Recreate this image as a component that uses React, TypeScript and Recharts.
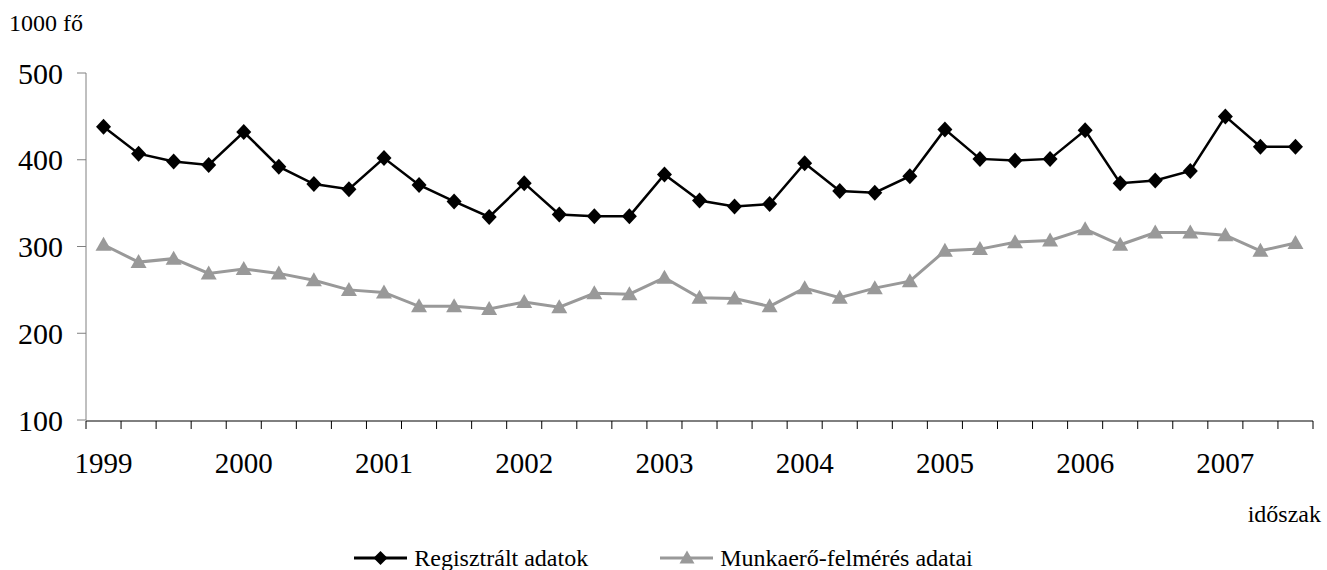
import React from 'react';
import { LineChart, Line, XAxis, YAxis, Legend } from 'recharts';

const quarters = [
  '1999 I', '1999 II', '1999 III', '1999 IV',
  '2000 I', '2000 II', '2000 III', '2000 IV',
  '2001 I', '2001 II', '2001 III', '2001 IV',
  '2002 I', '2002 II', '2002 III', '2002 IV',
  '2003 I', '2003 II', '2003 III', '2003 IV',
  '2004 I', '2004 II', '2004 III', '2004 IV',
  '2005 I', '2005 II', '2005 III', '2005 IV',
  '2006 I', '2006 II', '2006 III', '2006 IV',
  '2007 I', '2007 II', '2007 III',
];

const yearLabels = ['1999', '2000', '2001', '2002', '2003', '2004', '2005', '2006', '2007'];

const registered = [
  438, 407, 398, 394, 432, 392, 372, 366, 402, 371, 352, 334,
  373, 337, 335, 335, 383, 353, 346, 349, 396, 364, 362, 381,
  435, 401, 399, 401, 434, 373, 376, 387, 450, 415, 415,
];

const survey = [
  302, 282, 286, 269, 274, 269, 261, 250, 247, 231, 231, 228,
  236, 230, 246, 245, 264, 241, 240, 231, 252, 241, 252, 260,
  295, 297, 305, 307, 320, 302, 316, 316, 313, 295, 304,
];

const yTicks = [100, 200, 300, 400, 500];

const seriesOrder = ['registered', 'survey'];
const seriesNames: Record<string, string> = {
  registered: 'Regisztrált adatok',
  survey: 'Munkaerő-felmérés adatai',
};

const data = quarters.map((q, i) => ({
  idx: i,
  q,
  registered: registered[i],
  survey: survey[i],
}));

const boundaryTicks = [...quarters.map((_, i) => i - 0.5), quarters.length - 0.5];
const yearTicks = yearLabels.map((_, k) => k * 4);

const FONT = 'Liberation Serif, DejaVu Serif, Times New Roman, serif';
const GRAY = '#999999';

const DiamondDot = (props: any) => {
  const { cx, cy, index } = props;
  if (cx == null || cy == null) return <g key={`d-${index}`} />;
  return (
    <path
      key={`d-${index}`}
      d={`M${cx},${cy - 8}L${cx + 7.5},${cy}L${cx},${cy + 8}L${cx - 7.5},${cy}Z`}
      fill="#000"
    />
  );
};

const TriangleDot = (props: any) => {
  const { cx, cy, index } = props;
  if (cx == null || cy == null) return <g key={`t-${index}`} />;
  return (
    <path
      key={`t-${index}`}
      d={`M${cx},${cy - 8}L${cx + 8},${cy + 6}L${cx - 8},${cy + 6}Z`}
      fill={GRAY}
    />
  );
};

const LegendIcon = ({ kind, color }: { kind: string; color: string }) => (
  <svg width={53} height={20} style={{ marginRight: 7, display: 'block' }}>
    <line x1={0} y1={10} x2={53} y2={10} stroke={color} strokeWidth={3} />
    {kind === 'registered' ? (
      <path d="M26.5,3L33.5,10L26.5,17L19.5,10Z" fill={color} />
    ) : (
      <path d="M27,2.5L34.5,15.5L19.5,15.5Z" fill={color} />
    )}
  </svg>
);

const renderLegend = (props: any) => {
  const payload = [...(props.payload || [])].sort(
    (a: any, b: any) => seriesOrder.indexOf(a.dataKey) - seriesOrder.indexOf(b.dataKey)
  );
  return (
    <div
      style={{
        display: 'flex',
        justifyContent: 'center',
        alignItems: 'center',
        gap: 72,
        fontFamily: FONT,
        fontSize: 24,
        lineHeight: '28px',
        color: '#000',
      }}
    >
      {payload.map((entry: any) => (
        <div key={entry.dataKey} style={{ display: 'flex', alignItems: 'center' }}>
          <LegendIcon kind={entry.dataKey} color={entry.color} />
          <span>{entry.value}</span>
        </div>
      ))}
    </div>
  );
};

export default function App() {
  return (
    <div
      style={{
        position: 'absolute',
        left: 0,
        top: 0,
        width: 1327,
        height: 570,
        background: '#fff',
        fontFamily: FONT,
      }}
    >
      <div style={{ position: 'absolute', left: 9, top: 9, fontSize: 24, lineHeight: '28px', color: '#000' }}>
        1000 fő
      </div>
      <div
        style={{
          position: 'absolute',
          right: 6,
          top: 500,
          fontSize: 24,
          lineHeight: '28px',
          color: '#000',
        }}
      >
        időszak
      </div>
      <LineChart
        width={1327}
        height={570}
        data={data}
        margin={{ top: 73, right: 14, left: 10, bottom: 148 }}
      >
        <XAxis
          xAxisId="marks"
          dataKey="idx"
          type="number"
          domain={[-0.5, quarters.length - 0.5]}
          ticks={boundaryTicks}
          interval={0}
          tickFormatter={() => ''}
          height={1}
          tickSize={8}
          stroke="#000"
          strokeWidth={1}
        />
        <XAxis
          xAxisId="labels"
          dataKey="idx"
          type="number"
          domain={[-0.5, quarters.length - 0.5]}
          ticks={yearTicks}
          interval={0}
          tickFormatter={(v: number) => yearLabels[Math.round(v / 4)]}
          axisLine={false}
          tickLine={false}
          tickSize={0}
          tickMargin={32}
          height={1}
          tick={{ fill: '#000', fontSize: 29, fontFamily: FONT }}
        />
        <YAxis
          type="number"
          domain={[100, 500]}
          ticks={yTicks}
          interval={0}
          width={76}
          tickSize={9}
          tickMargin={14}
          stroke="#808080"
          tick={{ fill: '#000', fontSize: 30, fontFamily: FONT }}
        />
        <Legend
          content={renderLegend}
          verticalAlign="middle"
          align="center"
          layout="horizontal"
          wrapperStyle={{ top: 544, left: 0, width: 1327 }}
        />
        <Line
          xAxisId="marks"
          type="linear"
          dataKey="registered"
          name={seriesNames.registered}
          stroke="#000"
          strokeWidth={2.5}
          dot={DiamondDot}
          activeDot={false}
          isAnimationActive={false}
        />
        <Line
          xAxisId="marks"
          type="linear"
          dataKey="survey"
          name={seriesNames.survey}
          stroke={GRAY}
          strokeWidth={3}
          dot={TriangleDot}
          activeDot={false}
          isAnimationActive={false}
        />
      </LineChart>
    </div>
  );
}
